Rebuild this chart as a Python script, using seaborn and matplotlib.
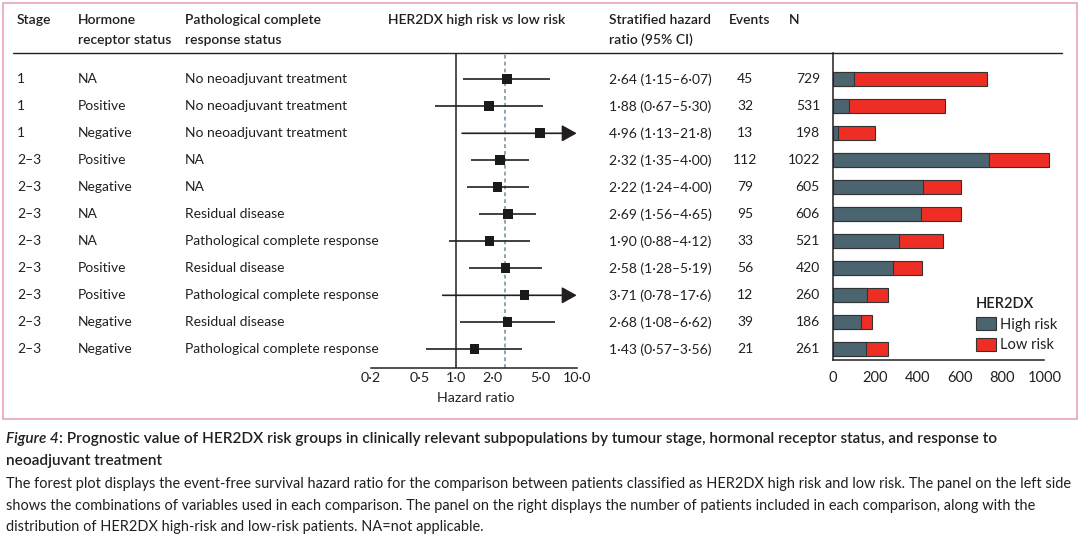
import numpy as np
import pandas as pd
import matplotlib
matplotlib.use("Agg")
import matplotlib.pyplot as plt
import seaborn as sns
from matplotlib.patches import Rectangle, Patch
from matplotlib.lines import Line2D

# ---------------------------------------------------------
# DATA
# ---------------------------------------------------------
stage = ["1", "1", "1", "2–3", "2–3", "2–3", "2–3", "2–3", "2–3", "2–3", "2–3"]
hormone = ["NA", "Positive", "Negative", "Positive", "Negative", "NA", "NA",
           "Positive", "Positive", "Negative", "Negative"]
pcr = ["No neoadjuvant treatment", "No neoadjuvant treatment", "No neoadjuvant treatment",
       "NA", "NA", "Residual disease", "Pathological complete response",
       "Residual disease", "Pathological complete response", "Residual disease",
       "Pathological complete response"]
hr = [2.64, 1.88, 4.96, 2.32, 2.22, 2.69, 1.90, 2.58, 3.71, 2.68, 1.43]
ci_low = [1.15, 0.67, 1.13, 1.35, 1.24, 1.56, 0.88, 1.28, 0.78, 1.08, 0.57]
ci_high = [6.07, 5.30, 21.8, 4.00, 4.00, 4.65, 4.12, 5.19, 17.6, 6.62, 3.56]
events = [45, 32, 13, 112, 79, 95, 33, 56, 12, 39, 21]
n_total = [729, 531, 198, 1022, 605, 606, 521, 420, 260, 186, 261]
n_high = [101, 79, 27, 740, 427, 416, 313, 284, 161, 134, 156]
overall_hr = 2.57

hr_ticks = [0.2, 0.5, 1.0, 2.0, 5.0, 10.0]
bar_ticks = [0, 200, 400, 600, 800, 1000]

df = pd.DataFrame({"row": np.arange(len(stage)), "stage": stage, "hormone": hormone,
                   "pcr": pcr, "hr": hr, "lo": ci_low, "hi": ci_high,
                   "events": events, "n": n_total, "high": n_high})
df["label"] = [str(i) for i in df["row"]]

# ---------------------------------------------------------
# STYLE
# ---------------------------------------------------------
sns.set_style("white")
plt.rcParams["font.family"] = ["Lato", "DejaVu Sans"]
plt.rcParams["font.size"] = 10
TXT = "#231f20"
DARK = "#4a6470"
RED = "#ee2e24"
PINK = "#e6a3ba"

W, H = 1080, 537
fig = plt.figure(figsize=(W / 100, H / 100), dpi=100)


def fx(x):
    return x / W


def fy(y):
    return 1 - y / H


def row_y(i):
    return 79.3 + 27.0 * i


# border box and header rule
fig.patches.append(Rectangle((fx(3), fy(419)), fx(1074), 416 / H, transform=fig.transFigure,
                             fill=False, edgecolor=PINK, lw=1.2))
fig.lines.append(Line2D([fx(13), fx(1062)], [fy(53), fy(53)], transform=fig.transFigure,
                        color=TXT, lw=1))

renderer = fig.canvas.get_renderer()


def rich_text(x, y, parts, ha="left", **kw):
    # parts: list of (string, style dict); laid out left-to-right
    widths = []
    for s, st in parts:
        t = fig.text(0, 0, s, **kw, **st)
        widths.append(t.get_window_extent(renderer).width)
        t.remove()
    total = sum(widths)
    x0 = x - total / 2 if ha == "center" else x
    for (s, st), w in zip(parts, widths):
        fig.text(fx(x0), fy(y), s, va="center", ha="left", **kw, **st)
        x0 += w


# column headers
hdr = dict(color=TXT, fontsize=10, fontweight="semibold", va="center")
fig.text(fx(17), fy(20), "Stage", **hdr)
fig.text(fx(78), fy(20), "Hormone", **hdr)
fig.text(fx(78), fy(40), "receptor status", **hdr)
fig.text(fx(185), fy(20), "Pathological complete", **hdr)
fig.text(fx(185), fy(40), "response status", **hdr)
rich_text(477, 20, [("HER2DX high risk ", {}), ("vs", {"fontstyle": "italic"}),
                    (" low risk", {})], ha="center", color=TXT, fontsize=10,
          fontweight="semibold")
fig.text(fx(609), fy(20), "Stratified hazard", **hdr)
fig.text(fx(609), fy(40), "ratio (95% CI)", **hdr)
fig.text(fx(729), fy(20), "Events", **hdr)
fig.text(fx(789), fy(20), "N", **hdr)


def fmt(v):
    s = f"{v:.1f}" if v >= 10 else f"{v:.2f}"
    return s.replace(".", "·")


body = dict(color=TXT, fontsize=10, va="center")
for _, r in df.iterrows():
    y = row_y(r["row"])
    fig.text(fx(17), fy(y), r["stage"], **body)
    fig.text(fx(78), fy(y), r["hormone"], **body)
    fig.text(fx(185), fy(y), r["pcr"], **body)
    fig.text(fx(609), fy(y), f"{fmt(r['hr'])} ({fmt(r['lo'])}–{fmt(r['hi'])})", **body)
    fig.text(fx(745), fy(y), str(r["events"]), ha="center", **body)
    fig.text(fx(820), fy(y), str(r["n"]), ha="right", **body)

# ---------------------------------------------------------
# FOREST PLOT
# ---------------------------------------------------------
one_px, dec_px = 455.7, 121.0
fl, fr, ft, fb = 360, 592, 53, 368
ax = fig.add_axes([fx(fl), fy(fb), (fr - fl) / W, (fb - ft) / H])
ax.set_xscale("log")
ax.set_xlim(10 ** ((fl - one_px) / dec_px), 10 ** ((fr - one_px) / dec_px))
ax.set_ylim((fb - 79.3) / 27.0, (ft - 79.3) / 27.0)
ax.patch.set_alpha(0)

ax.axvline(1.0, color=TXT, lw=1.1, zorder=1)
ax.axvline(overall_hr, color="#6d8c9c", lw=1.1, ls=(0, (2.5, 2)), zorder=1)

capped = df["hi"] > 10
ax.hlines(df.loc[~capped, "row"], df.loc[~capped, "lo"], df.loc[~capped, "hi"],
          color=TXT, lw=1.2, zorder=2)
for _, r in df[capped].iterrows():
    ax.annotate("", xy=(10.0, r["row"]), xytext=(r["lo"], r["row"]),
                arrowprops=dict(arrowstyle="-|>,head_length=0.75,head_width=0.42",
                                mutation_scale=12, lw=1.2, color=TXT,
                                shrinkA=0, shrinkB=0), zorder=2)
sns.scatterplot(data=df, x="hr", y="row", marker="s", s=48, color="#1a1a1a",
                edgecolor="none", ax=ax, zorder=3, legend=False)

for sp in ["top", "right", "left"]:
    ax.spines[sp].set_visible(False)
ax.spines["bottom"].set_bounds(0.2, 10.0)
ax.spines["bottom"].set_color(TXT)
ax.spines["bottom"].set_linewidth(1.1)
ax.set_yticks([])
ax.set_xticks(hr_ticks)
ax.set_xticklabels([f"{t:.1f}".replace(".", "·") for t in hr_ticks])
ax.minorticks_off()
ax.tick_params(axis="x", direction="in", length=6, width=1.1, pad=3, colors=TXT,
               labelsize=10.3)
ax.set_xlabel("Hazard ratio", fontsize=10.3, color=TXT, labelpad=6)
ax.set_ylabel("")

# ---------------------------------------------------------
# BAR PLOT
# ---------------------------------------------------------
bl, br, bt, bb = 832.7, 1062, 53, 360
axb = fig.add_axes([fx(bl), fy(bb), (br - bl) / W, (bb - bt) / H])
sns.barplot(data=df, x="n", y="label", color=RED, orient="h", width=0.51,
            edgecolor="#333333", linewidth=0.8, ax=axb, saturation=1)
sns.barplot(data=df, x="high", y="label", color=DARK, orient="h", width=0.51,
            edgecolor="#333333", linewidth=0.8, ax=axb, saturation=1)
axb.set_xlim(0, (br - bl) / 0.2116)
axb.set_ylim((bb - 79.3) / 27.0, (bt - 79.3) / 27.0)
axb.patch.set_alpha(0)
for sp in ["top", "right"]:
    axb.spines[sp].set_visible(False)
for sp in ["left", "bottom"]:
    axb.spines[sp].set_color(TXT)
    axb.spines[sp].set_linewidth(1.1)
axb.spines["bottom"].set_bounds(0, 1000)
axb.set_yticks([])
axb.set_xticks(bar_ticks)
axb.tick_params(axis="x", direction="out", length=5, width=1.1, pad=3, colors=TXT,
                labelsize=10.5)
axb.set_xlabel("")
axb.set_ylabel("")

leg = axb.legend(handles=[Patch(facecolor=DARK, edgecolor="#333333", lw=0.8, label="High risk"),
                          Patch(facecolor=RED, edgecolor="#333333", lw=0.8, label="Low risk")],
                 title="HER2DX", frameon=False, loc="upper left",
                 bbox_to_anchor=(fx(976), fy(297)), bbox_transform=fig.transFigure,
                 fontsize=10.5, title_fontsize=10.5, handlelength=1.35, handleheight=1.0,
                 handletextpad=0.3, labelspacing=0.42, borderpad=0, borderaxespad=0)
leg.get_title().set_fontweight("semibold")
leg.get_title().set_color(TXT)
leg._legend_box.align = "left"
for t in leg.get_texts():
    t.set_color(TXT)

# ---------------------------------------------------------
# CAPTION
# ---------------------------------------------------------
cap = dict(color=TXT, fontsize=11.1, fontweight="semibold")
rich_text(6, 439, [("Figure 4", {"fontstyle": "italic"}), (": Prognostic value of HER2DX risk groups in "
                   "clinically relevant subpopulations by tumour stage, hormonal receptor status, "
                   "and response to", {})], **cap)
fig.text(fx(6), fy(461), "neoadjuvant treatment", va="center", **cap)
desc = ["The forest plot displays the event-free survival hazard ratio for the comparison between "
        "patients classified as HER2DX high risk and low risk. The panel on the left side",
        "shows the combinations of variables used in each comparison. The panel on the right "
        "displays the number of patients included in each comparison, along with the",
        "distribution of HER2DX high-risk and low-risk patients. NA=not applicable."]
for k, line in enumerate(desc):
    fig.text(fx(6), fy(484 + 21.7 * k), line, va="center", color=TXT, fontsize=10.45)

fig.savefig("out.png", dpi=100)
